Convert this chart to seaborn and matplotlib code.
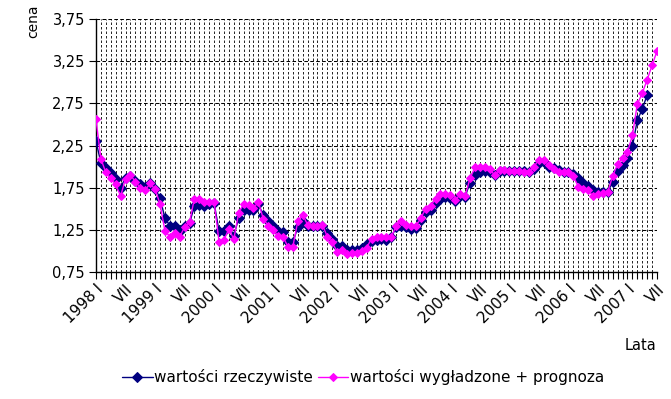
import numpy as np
import pandas as pd
import matplotlib
matplotlib.use("Agg")
import matplotlib.pyplot as plt
import seaborn as sns

# ---- data (monthly, 1998-01 .. 2007-07) ----
actual = [2.30, 2.045, 1.985, 1.92, 1.85, 1.75, 1.87, 1.885, 1.83, 1.79, 1.76, 1.81,
          1.74, 1.63, 1.39, 1.30, 1.30, 1.24, 1.29, 1.33, 1.53, 1.55, 1.53, 1.56,
          1.57, 1.235, 1.235, 1.30, 1.18, 1.39, 1.48, 1.48, 1.48, 1.56, 1.42, 1.35,
          1.29, 1.235, 1.22, 1.10, 1.10, 1.28, 1.35, 1.30, 1.30, 1.30, 1.30, 1.215,
          1.145, 1.06, 1.06, 1.01, 1.01, 1.01, 1.04, 1.08, 1.12, 1.13, 1.14, 1.13,
          1.16, 1.28, 1.30, 1.28, 1.26, 1.27, 1.37, 1.46, 1.48, 1.57, 1.62, 1.64,
          1.63, 1.59, 1.65, 1.64, 1.81, 1.90, 1.93, 1.95, 1.93, 1.90, 1.95, 1.95,
          1.95, 1.95, 1.95, 1.95, 1.93, 1.97, 2.04, 2.05, 2.00, 1.98, 1.96, 1.94,
          1.94, 1.91, 1.86, 1.80, 1.77, 1.72, 1.70, 1.70, 1.70, 1.82, 1.95, 2.02,
          2.10, 2.24, 2.55, 2.68, 2.85]
smoothed = [2.56, 2.09, 1.93, 1.86, 1.79, 1.65, 1.855, 1.90, 1.82, 1.75, 1.72, 1.80,
            1.73, 1.56, 1.24, 1.17, 1.215, 1.17, 1.28, 1.34, 1.62, 1.62, 1.58, 1.58,
            1.58, 1.11, 1.13, 1.26, 1.14, 1.45, 1.56, 1.55, 1.51, 1.58, 1.38, 1.30,
            1.25, 1.18, 1.17, 1.05, 1.05, 1.35, 1.43, 1.31, 1.30, 1.30, 1.31, 1.17,
            1.10, 0.99, 1.01, 0.96, 0.97, 0.98, 1.00, 1.04, 1.145, 1.16, 1.16, 1.16,
            1.16, 1.30, 1.35, 1.31, 1.29, 1.29, 1.39, 1.50, 1.53, 1.62, 1.67, 1.67,
            1.66, 1.60, 1.67, 1.65, 1.86, 1.99, 2.00, 2.00, 1.97, 1.90, 1.96, 1.96,
            1.95, 1.95, 1.95, 1.94, 1.93, 2.00, 2.08, 2.08, 2.02, 1.97, 1.93, 1.93,
            1.93, 1.89, 1.76, 1.74, 1.72, 1.65, 1.68, 1.69, 1.70, 1.89, 2.03, 2.10,
            2.17, 2.37, 2.74, 2.87, 3.03, 3.20, 3.37]
x_tick_labels = ["1998 I", "VII", "1999 I", "VII", "2000 I", "VII", "2001 I", "VII",
                 "2002 I", "VII", "2003 I", "VII", "2004 I", "VII", "2005 I", "VII",
                 "2006 I", "VII", "2007 I", "VII"]
y_ticks = [0.75, 1.25, 1.75, 2.25, 2.75, 3.25, 3.75]
series_names = ["wartości rzeczywiste", "wartości wygładzone + prognoza"]

df_a = pd.DataFrame({"m": np.arange(len(actual)), "v": actual})
df_s = pd.DataFrame({"m": np.arange(len(smoothed)), "v": smoothed})

sns.set_style("white")
plt.rcParams["font.family"] = ["DejaVu Sans"]
plt.rcParams["text.color"] = "black"
plt.rcParams["xtick.labelcolor"] = "black"
plt.rcParams["ytick.labelcolor"] = "black"

fig = plt.figure(figsize=(6.71, 3.99), dpi=100)
ax = fig.add_axes([96 / 671, 1 - 272 / 399, (657 - 96) / 671, (272 - 19) / 399])

navy = "#000080"
pink = "#FF00FF"
sns.lineplot(data=df_a, x="m", y="v", ax=ax, color=navy, marker="D", markersize=5,
             markeredgecolor=navy, markerfacecolor=navy, linewidth=1.0,
             label=series_names[0], legend=False, zorder=3)
sns.lineplot(data=df_s, x="m", y="v", ax=ax, color=pink, marker="D", markersize=3.8,
             markeredgecolor=pink, markerfacecolor=pink, linewidth=1.0,
             label=series_names[1], legend=False, zorder=4)

n = len(smoothed)
ax.set_xlim(0, n - 1)
ax.set_ylim(y_ticks[0], y_ticks[-1])
ax.set_xticks(np.arange(0, n, 6))
ax.set_xticklabels(x_tick_labels, rotation=45, ha="right", rotation_mode="anchor",
                   fontsize=11, color="black")
ax.set_xticks(np.arange(0, n), minor=True)
ax.set_yticks(y_ticks)
ax.set_yticklabels([f"{v:.2f}".replace(".", ",") for v in y_ticks], fontsize=10.5,
                   color="black")

ax.tick_params(axis="x", which="both", direction="out", length=5, width=0.8,
               color="black", bottom=True, pad=2)
ax.tick_params(axis="y", which="major", direction="out", length=5, width=0.8,
               color="black", left=True, pad=3)

ax.grid(which="both", axis="x", color="black", linestyle=(0, (3, 2.4)), linewidth=0.6)
ax.grid(which="major", axis="y", color="black", linestyle=(0, (3.5, 2.2)), linewidth=0.75)
ax.set_axisbelow(True)

for s in ["top", "right"]:
    ax.spines[s].set_visible(False)
for s in ["left", "bottom"]:
    ax.spines[s].set_color("black")
    ax.spines[s].set_linewidth(1.0)

ax.set_xlabel("")
ax.set_ylabel("")

fig.text(33 / 671, 1 - 38 / 399, "cena", rotation=90, ha="center", va="bottom",
         fontsize=10, color="black")
fig.text(656 / 671, 1 - 345 / 399, "Lata", ha="right", va="center", fontsize=10.5,
         color="black")

handles, labels = ax.get_legend_handles_labels()
leg = fig.legend(handles, labels, loc="center", bbox_to_anchor=(363 / 671, 1 - 377 / 399),
                 ncol=2, frameon=False, fontsize=11, handlelength=2.0, handletextpad=0.1,
                 columnspacing=0.3)
for t in leg.get_texts():
    t.set_color("black")

fig.savefig("out.png", dpi=100)
